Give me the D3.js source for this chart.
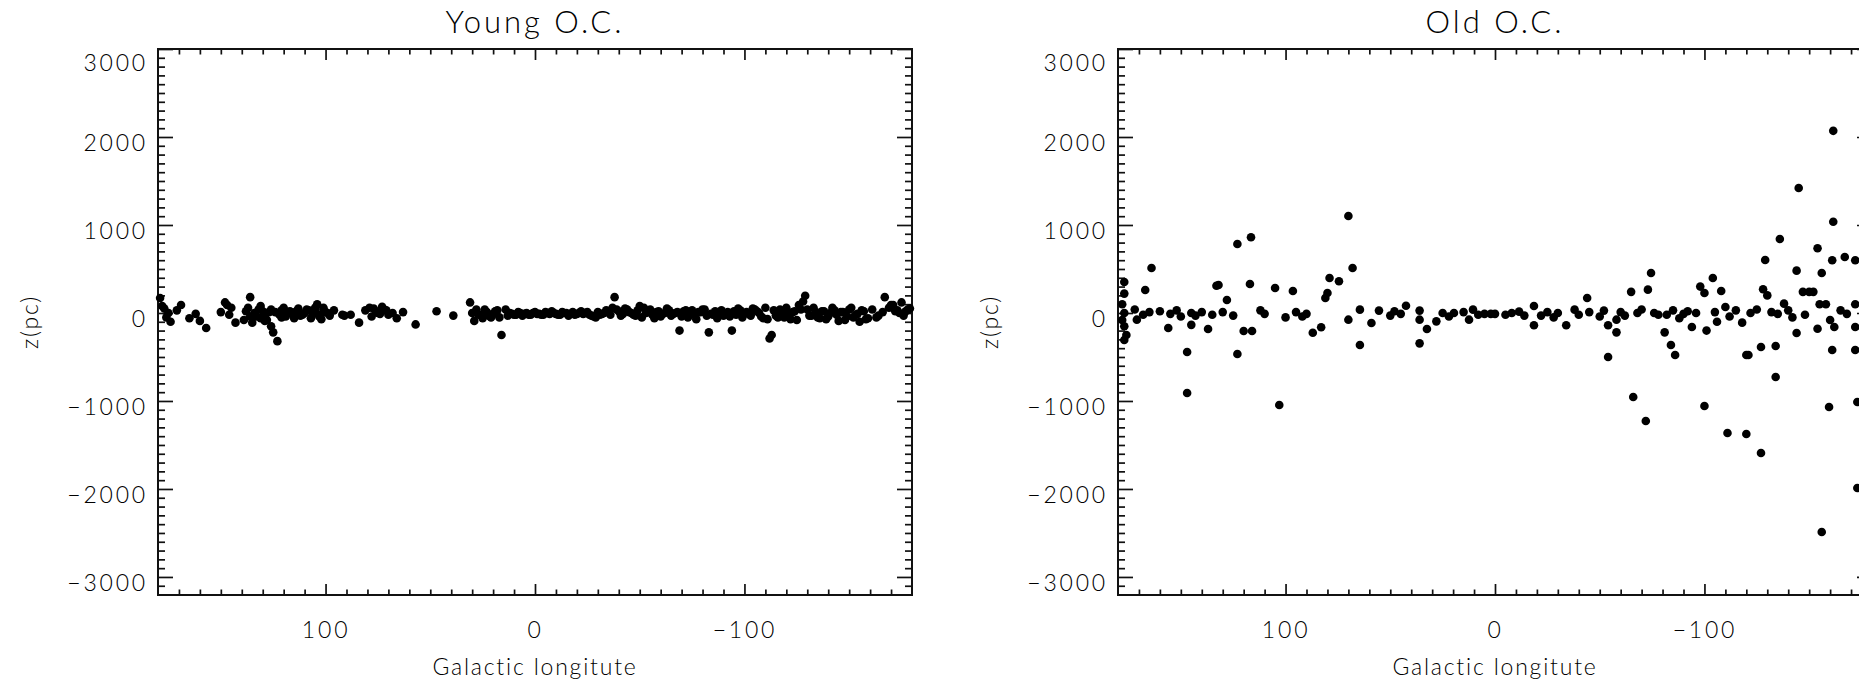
<!DOCTYPE html>
<html><head><meta charset="utf-8">
<script src="https://cdn.jsdelivr.net/npm/d3@7"></script>
<style>body{margin:0;background:#fff;overflow:hidden}</style></head>
<body>
<svg id="chart" width="1859" height="683"></svg>
<script>
// ---- data: [galactic longitude (deg), z (pc)] ----
const panelTitles = ["Young O.C.", "Old O.C."];
const xAxisTitle = "Galactic longitute";
const yAxisTitle = "z(pc)";
const xMajorTicks = [100, 0, -100];
const yMajorTicks = [-3000, -2000, -1000, 0, 1000, 2000, 3000];

const youngPoints = [
 [179,170],[178,80],[177,50],[176,-50],[175,0],[174,-100],[171,30],[169,90],[165,-60],[162,-10],[160,-90],[157,-170],
 [150,10],[148,120],[147,90],[146,-20],[145,60],[143,-110],[139,-80],[138,20],[137,60],[136,180],[136,-40],[135,-110],
 [134,0],[133,-40],[132,40],[131,-60],[131,80],[130,20],[129,-30],[129,-90],[128,-80],[127,10],[126,-150],[126,40],
 [125,-220],[124,10],[123,-320],[122,-20],[121,30],[121,-50],[120,60],[119,-40],[118,10],[117,20],[116,-10],[115,-60],
 [114,20],[113,50],[112,-30],[111,-20],[110,0],[109,40],[108,30],[107,-60],[106,-10],[105,60],[105,20],[104,100],
 [103,-20],[103,-40],[102,-70],[101,40],[101,60],[100,10],[99,0],[98,-30],[96,30],[92,-20],[91,-30],[88,-20],[84,-110],
 [81,30],[79,60],[78,-40],[77,50],[76,20],[75,0],[74,-10],[73,70],[72,40],[71,30],[70,-20],[68,0],[66,-60],[63,10],
 [57,-130],[47,20],[39,-30],[31,120],[30,0],[29,-90],[28,40],[27,-20],[26,-20],[25,-60],[24,40],[23,10],[22,-30],
 [21,-50],[20,-10],[19,20],[18,30],[17,-50],[16,-250],[14,40],[13,-30],[12,0],[11,-10],[10,-20],[9,-20],[8,10],[7,0],
 [6,-30],[5,-10],[4,0],[3,-20],[2,-20],[1,0],[0,10],[-1,-10],[-2,-10],[-3,-20],[-4,-20],[-5,10],[-6,0],[-7,-10],
 [-8,20],[-9,0],[-10,-10],[-11,-20],[-12,-20],[-13,10],[-14,0],[-15,0],[-16,-30],[-17,-10],[-18,10],[-19,-20],
 [-20,-10],[-21,0],[-22,20],[-23,-10],[-24,0],[-25,10],[-26,-20],[-27,-30],[-28,-40],[-29,-50],[-30,10],[-31,-20],
 [-32,-10],[-33,0],[-34,30],[-35,20],[-36,-20],[-37,60],[-38,180],[-39,40],[-40,20],[-41,-30],[-42,-10],[-43,50],
 [-44,40],[-45,10],[-46,0],[-47,-20],[-48,-30],[-49,30],[-50,80],[-51,-50],[-52,60],[-53,0],[-54,20],[-55,40],
 [-56,-20],[-57,-60],[-58,10],[-59,20],[-60,-40],[-61,-10],[-62,0],[-63,50],[-64,30],[-65,-30],[-66,-10],[-67,0],
 [-68,10],[-69,-200],[-70,-40],[-71,20],[-72,30],[-73,-50],[-74,0],[-75,30],[-76,-20],[-77,-70],[-78,10],[-79,10],
 [-80,40],[-81,40],[-82,-30],[-83,-220],[-84,-10],[-85,-20],[-86,20],[-87,-60],[-88,0],[-89,30],[-90,-30],[-91,-10],
 [-92,10],[-93,-40],[-94,-200],[-95,20],[-96,-20],[-97,50],[-98,30],[-99,-50],[-100,0],[-101,10],[-102,-10],
 [-103,-30],[-104,50],[-105,40],[-106,20],[-107,0],[-108,-40],[-109,-60],[-110,60],[-111,-70],[-112,-290],[-113,-250],
 [-114,30],[-115,-30],[-116,-50],[-117,40],[-118,0],[-119,-50],[-120,60],[-121,-20],[-122,-70],[-123,10],[-124,20],
 [-125,-80],[-126,90],[-127,40],[-128,130],[-129,195],[-130,40],[-131,-30],[-132,-30],[-133,60],[-134,10],[-135,-50],
 [-136,-60],[-137,20],[-138,20],[-139,-70],[-140,-40],[-141,0],[-142,60],[-143,30],[-144,-20],[-145,-90],[-146,10],
 [-147,10],[-148,-80],[-149,-40],[-150,40],[-151,60],[-152,-50],[-153,-20],[-154,-10],[-155,-100],[-156,30],
 [-157,20],[-158,-70],[-159,-60],[-161,40],[-163,-50],[-164,-30],[-166,10],[-167,180],[-169,60],[-170,90],[-171,90],
 [-172,20],[-173,30],[-174,0],[-175,120],[-176,-30],[-177,20],[-178,40],[-179,50]
];

const oldPoints = [
 [177,352],[177,220],[178,100],[177,0],[178,-80],[177,-150],[176,-250],[177,-307],[164,511],[167,261],[172,40],
 [171,-76],[168,-20],[165,10],[160,20],[156,-170],[155,-10],[152,30],[150,-40],[147,-443],[147,-909],[145,0],
 [145,-135],[143,-30],[140,10],[137,-182],[135,-20],[133,310],[132,318],[130,10],[128,148],[125,-30],[123,784],
 [123,-466],[120,-205],[117,330],[116.5,860],[116,-205],[112,30],[110,-10],[105,284],[103,-1045],[100,-50],
 [96.5,250],[95,10],[92,-40],[90,-10],[87,-224],[83,-163],[81,170],[80,227],[79,398],[74.5,360],[70,1102],[70,-76],
 [68,511],[64.5,38],[64.5,-364],[59,-114],[55.4,27],[50,-30],[48,20],[45,-10],[42.5,83],[36,27],[36,-76],[36,-345],
 [32.5,-182],[28,-95],[25,0],[22,-40],[19.6,0],[15,10],[12.4,-76],[10.5,38],[8,-20],[5,-10],[2,-10],[0,-10],[-5,-20],
 [-8,0],[-11.5,15],[-14,-30],[-18.6,80],[-18.6,-140],[-22,-30],[-25,10],[-28,-50],[-30,0],[-34,-140],[-38,38],
 [-40,-20],[-44,170],[-45,10],[-50,-40],[-52,27],[-54,-500],[-54,-140],[-58,-76],[-58,-220],[-60,10],[-62,-30],
 [-65,240],[-66,-955],[-68,0],[-70,40],[-72,-1227],[-73,265],[-74.5,455],[-76,0],[-78,-20],[-81,-220],[-82,-20],
 [-84,-364],[-85,30],[-86,-477],[-88,-60],[-90,-10],[-92,20],[-94,-160],[-96,0],[-98,300],[-100,227],[-100,-1057],
 [-101,-200],[-104,398],[-105,10],[-106,-100],[-108,250],[-110,68],[-111,-1364],[-112,-40],[-115,30],[-118,-110],
 [-120,-477],[-120,-1375],[-121,-477],[-122,0],[-125,40],[-127,-386],[-127,-1591],[-128,270],[-129,602],[-130,200],
 [-132,10],[-134,-375],[-134,-727],[-135,-10],[-136,840],[-138,106],[-140,30],[-142,-50],[-144,481],[-144,-228],
 [-145,1420],[-147,240],[-148,-20],[-150,240],[-152,240],[-154,735],[-154,-180],[-155,100],[-156,455],[-156,-2489],
 [-158,100],[-159.5,-1068],[-160,-80],[-161,600],[-161,-420],[-161.5,2070],[-161.5,1036],[-162,-160],[-165,30],
 [-167,636],[-168,-10],[-172,600],[-172,-420],[-172,100],[-172,-160],[-173,-1011],[-173,-1989]
];

// ---- layout ----
const svg = d3.select("#chart");
svg.append("rect").attr("width", 1859).attr("height", 683).attr("fill", "#fff");
const W = 754, H = 546, top0 = 49;
const panelLefts = [158, 1118];
const FONT = "Lato, 'DejaVu Sans', sans-serif";
const INK = "#000";

function drawPanel(i, points) {
  const g = svg.append("g").attr("transform", `translate(${panelLefts[i]},${top0})`);
  const x = d3.scaleLinear().domain([180, -180]).range([0, W]);
  const y = d3.scaleLinear().domain([-3205, 3000]).range([H, 0]);
  const xMinor = d3.range(-170, 171, 10).filter(v => !xMajorTicks.includes(v));
  const yMinor = d3.range(-3200, 3001, 100).filter(v => v % 1000 !== 0);

  const styleAxis = sel => {
    sel.select(".domain").remove();
    sel.selectAll(".tick line").attr("stroke", "#111").attr("stroke-width", 1.7);
    sel.selectAll("text").attr("fill", INK).style("font-family", FONT).style("font-weight", 300)
      .style("font-size", "23px").style("letter-spacing", "2.8px");
  };
  g.append("g").attr("transform", `translate(0,${H})`)
    .call(d3.axisBottom(x).tickValues(xMajorTicks).tickSizeInner(-11).tickSizeOuter(0).tickPadding(27)
      .tickFormat(d3.format("d"))).call(styleAxis);
  g.append("g").attr("transform", `translate(0,${H})`)
    .call(d3.axisBottom(x).tickValues(xMinor).tickSizeInner(-5.5).tickSizeOuter(0).tickFormat("")).call(styleAxis);
  g.append("g").call(d3.axisTop(x).tickValues(xMajorTicks).tickSizeInner(-11).tickSizeOuter(0).tickFormat("")).call(styleAxis);
  g.append("g").call(d3.axisTop(x).tickValues(xMinor).tickSizeInner(-5.5).tickSizeOuter(0).tickFormat("")).call(styleAxis);
  const la = g.append("g")
    .call(d3.axisLeft(y).tickValues(yMajorTicks).tickSizeInner(-15).tickSizeOuter(0).tickPadding(10)
      .tickFormat(d3.format("d"))).call(styleAxis);
  la.selectAll("text").attr("dy", d => d === 3000 ? "0.95em" : "0.6em");
  g.append("g").call(d3.axisLeft(y).tickValues(yMinor).tickSizeInner(-7).tickSizeOuter(0).tickFormat("")).call(styleAxis);
  g.append("g").attr("transform", `translate(${W},0)`)
    .call(d3.axisRight(y).tickValues(yMajorTicks).tickSizeInner(-15).tickSizeOuter(0).tickFormat("")).call(styleAxis);
  g.append("g").attr("transform", `translate(${W},0)`)
    .call(d3.axisRight(y).tickValues(yMinor).tickSizeInner(-7).tickSizeOuter(0).tickFormat("")).call(styleAxis);
  g.append("rect").attr("width", W).attr("height", H).attr("fill", "none")
    .attr("stroke", "#111").attr("stroke-width", 2);

  g.append("g").selectAll("circle").data(points).join("circle")
    .attr("cx", d => x(d[0])).attr("cy", d => y(d[1])).attr("r", 4.3).attr("fill", "#000");

  const txt = (sel, size, ls) => sel.style("font-family", FONT).style("font-weight", 300)
    .style("font-size", size + "px").style("letter-spacing", ls + "px").attr("fill", INK);
  g.append("text").attr("x", W / 2).attr("y", 33 - top0).attr("text-anchor", "middle")
    .call(txt, 31, 3).text(panelTitles[i]);
  g.append("text").attr("x", W / 2).attr("y", 675 - top0).attr("text-anchor", "middle")
    .call(txt, 23, 1.8).text(xAxisTitle);
  g.append("text").attr("transform", `translate(${-120},${322 - top0}) rotate(-90)`).attr("text-anchor", "middle")
    .call(txt, 23, 1.8).text(yAxisTitle);
}
drawPanel(0, youngPoints);
drawPanel(1, oldPoints);
</script>
</body></html>
